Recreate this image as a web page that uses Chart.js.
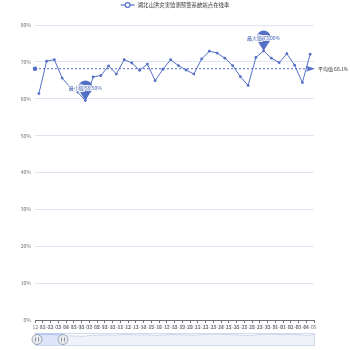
<!DOCTYPE html>
<html lang="zh">
<head>
    <meta charset="UTF-8">
    <title>湖北山洪灾害监测预警系统站点在线率</title>
    <style>
        body {
            margin: 0;
            padding: 0;
            background: #fff;
            font-family: "Noto Sans CJK SC", "DejaVu Sans", sans-serif;
        }

        .wrap {
            position: relative;
            width: 350px;
            height: 350px;
        }

        #chart {
            position: absolute;
            left: 0;
            top: 0;
        }

        #zoom {
            position: absolute;
            left: 30px;
            top: 330px;
        }
    </style>
</head>
<body>
    <div class="wrap">
        <canvas id="chart" width="350" height="350"></canvas>
        <canvas id="zoom" width="290" height="20"></canvas>
    </div>

    <script src="https://cdn.jsdelivr.net/npm/chart.js"></script>
    <script>
        const seriesName = '湖北山洪灾害监测预警系统站点在线率';

        const days = [
            '12-01', '12-02', '12-03', '12-04', '12-05', '12-06', '12-07', '12-08', '12-09', '12-10',
            '12-11', '12-12', '12-13', '12-14', '12-15', '12-16', '12-17', '12-18', '12-19', '12-20',
            '12-21', '12-22', '12-23', '12-24', '12-25', '12-26', '12-27', '12-28', '12-29', '12-30',
            '12-31', '01-01', '01-02', '01-03', '01-04', '01-05'
        ];

        const onlineRate = [
            61.4, 70.2, 70.6, 65.6, 63.2, 61.8, 59.5, 65.9, 66.3, 68.9,
            66.7, 70.6, 69.7, 67.7, 69.4, 64.9, 68.0, 70.6, 69.0, 67.8,
            66.7, 70.8, 72.9, 72.4, 71.0, 69.0, 66.0, 63.6, 71.2, 73.0,
            71.0, 69.8, 72.2, 69.1, 64.4, 72.1
        ];

        const yMin = 0;
        const yMax = 80;
        const yStep = 10;

        // slider window, percent of the data range
        const zoomStart = 0;
        const zoomEnd = 10;

        const blue = '#5470c6';
        const axisGray = '#6E7079';
        const fontFamily = '"Noto Sans CJK SC", "DejaVu Sans", sans-serif';

        const mean = onlineRate.reduce((a, b) => a + b, 0) / onlineRate.length;
        const maxVal = Math.max(...onlineRate);
        const minVal = Math.min(...onlineRate);

        function drawPin(ctx, x, y, text) {
            const r = 7.2;
            const cy = y - 13;
            ctx.save();
            ctx.beginPath();
            ctx.arc(x, cy, r, Math.PI * 0.5 + 0.75, Math.PI * 0.5 - 0.75, false);
            ctx.lineTo(x, y);
            ctx.closePath();
            ctx.fillStyle = blue;
            ctx.fill();

            ctx.font = '5px ' + fontFamily;
            ctx.textAlign = 'center';
            ctx.textBaseline = 'middle';
            ctx.lineWidth = 2;
            ctx.strokeStyle = 'rgba(255,255,255,0.9)';
            ctx.strokeText(text, x, cy);
            ctx.fillStyle = '#4a64b5';
            ctx.fillText(text, x, cy);
            ctx.restore();
        }

        const markPlugin = {
            id: 'marks',
            afterDatasetsDraw(chart) {
                const ctx = chart.ctx;
                const area = chart.chartArea;
                const xs = chart.scales.x;
                const ys = chart.scales.y;

                // average line
                const my = ys.getPixelForValue(mean);
                ctx.save();
                ctx.strokeStyle = blue;
                ctx.lineWidth = 1;
                ctx.setLineDash([2, 2]);
                ctx.beginPath();
                ctx.moveTo(area.left, my);
                ctx.lineTo(area.right - 6, my);
                ctx.stroke();
                ctx.setLineDash([]);

                ctx.fillStyle = blue;
                ctx.beginPath();
                ctx.arc(area.left, my, 2.3, 0, Math.PI * 2);
                ctx.fill();

                ctx.beginPath();
                ctx.moveTo(area.right + 1, my);
                ctx.lineTo(area.right - 8, my - 3);
                ctx.lineTo(area.right - 6, my);
                ctx.lineTo(area.right - 8, my + 3);
                ctx.closePath();
                ctx.fill();

                ctx.font = '5px ' + fontFamily;
                ctx.fillStyle = '#333';
                ctx.textAlign = 'left';
                ctx.textBaseline = 'middle';
                ctx.fillText('平均值 ' + mean.toFixed(1) + '%', area.right + 4, my);
                ctx.restore();

                // max / min pins
                const iMax = onlineRate.indexOf(maxVal);
                const iMin = onlineRate.indexOf(minVal);
                drawPin(ctx, xs.getPixelForValue(iMax), ys.getPixelForValue(maxVal), '最大值 ' + maxVal.toFixed(2) + '%');
                drawPin(ctx, xs.getPixelForValue(iMin), ys.getPixelForValue(minVal), '最小值 ' + minVal.toFixed(2) + '%');
            },
            afterDraw(chart) {
                // legend
                const ctx = chart.ctx;
                ctx.save();
                ctx.font = '5.4px ' + fontFamily;
                const tw = ctx.measureText(seriesName).width;
                const total = 14 + 3 + tw;
                const x0 = chart.width / 2 - total / 2;
                const y0 = 5;
                ctx.strokeStyle = blue;
                ctx.lineWidth = 1.2;
                ctx.beginPath();
                ctx.moveTo(x0, y0);
                ctx.lineTo(x0 + 14, y0);
                ctx.stroke();
                ctx.beginPath();
                ctx.arc(x0 + 7, y0, 2.4, 0, Math.PI * 2);
                ctx.fillStyle = '#fff';
                ctx.fill();
                ctx.stroke();
                ctx.fillStyle = '#333';
                ctx.textAlign = 'left';
                ctx.textBaseline = 'middle';
                ctx.fillText(seriesName, x0 + 17, y0);
                ctx.restore();
            }
        };

        new Chart(document.getElementById('chart'), {
            type: 'line',
            data: {
                labels: days,
                datasets: [{
                    label: seriesName,
                    data: onlineRate,
                    borderColor: blue,
                    backgroundColor: blue,
                    borderWidth: 1,
                    pointRadius: 1.4,
                    pointBackgroundColor: blue,
                    pointBorderWidth: 0,
                    tension: 0
                }]
            },
            options: {
                responsive: false,
                animation: false,
                layout: { padding: { top: 25, right: 36, bottom: 0, left: 0 } },
                plugins: {
                    legend: { display: false },
                    tooltip: { enabled: false }
                },
                scales: {
                    x: {
                        offset: true,
                        grid: { offset: true, drawOnChartArea: false, color: axisGray, tickLength: 3 },
                        border: { color: axisGray },
                        ticks: {
                            autoSkip: false,
                            maxRotation: 0,
                            minRotation: 0,
                            padding: 1,
                            color: axisGray,
                            font: { size: 5, family: fontFamily }
                        },
                        afterFit(axis) { axis.height = 30; }
                    },
                    y: {
                        min: yMin,
                        max: yMax,
                        ticks: {
                            stepSize: yStep,
                            padding: 4,
                            color: axisGray,
                            font: { size: 5, family: fontFamily },
                            callback: (v) => v + '%'
                        },
                        grid: { color: '#E0E6F1', drawTicks: false },
                        border: { display: false },
                        afterFit(axis) { axis.width = 35; }
                    }
                }
            },
            plugins: [markPlugin]
        });

        const sliderPlugin = {
            id: 'slider',
            beforeDatasetsDraw(chart) {
                const ctx = chart.ctx;
                const a = chart.chartArea;
                const w = a.right - a.left;
                const sx = a.left + w * zoomStart / 100;
                const ex = a.left + w * zoomEnd / 100;
                ctx.save();
                ctx.fillStyle = 'rgba(135,175,274,0.25)';
                ctx.fillRect(sx, a.top, ex - sx, a.bottom - a.top);
                ctx.restore();
            },
            afterDraw(chart) {
                const ctx = chart.ctx;
                const a = chart.chartArea;
                const w = a.right - a.left;
                const sx = a.left + w * zoomStart / 100;
                const ex = a.left + w * zoomEnd / 100;
                const cy = (a.top + a.bottom) / 2;
                ctx.save();
                ctx.strokeStyle = '#d2dbee';
                ctx.lineWidth = 1;
                ctx.strokeRect(a.left + 0.5, a.top + 0.5, w - 1, a.bottom - a.top - 1);
                ctx.fillStyle = 'rgba(135,175,274,0.35)';
                ctx.fillRect(sx, a.top, ex - sx, 2);
                [sx + 2, ex].forEach((hx) => {
                    ctx.beginPath();
                    ctx.arc(hx, cy, 5, 0, Math.PI * 2);
                    ctx.fillStyle = '#e9ebef';
                    ctx.fill();
                    ctx.strokeStyle = '#9aa2b1';
                    ctx.lineWidth = 1;
                    ctx.stroke();
                    ctx.strokeStyle = '#8a92a0';
                    ctx.beginPath();
                    ctx.moveTo(hx - 1.5, cy - 2);
                    ctx.lineTo(hx - 1.5, cy + 2);
                    ctx.moveTo(hx + 1.5, cy - 2);
                    ctx.lineTo(hx + 1.5, cy + 2);
                    ctx.stroke();
                });
                ctx.restore();
            }
        };

        new Chart(document.getElementById('zoom'), {
            type: 'line',
            data: {
                labels: days,
                datasets: [{
                    data: onlineRate,
                    borderColor: '#c4cde3',
                    borderWidth: 0.8,
                    pointRadius: 0,
                    fill: 'start',
                    backgroundColor: 'rgba(210,219,238,0.35)',
                    tension: 0
                }]
            },
            options: {
                responsive: false,
                animation: false,
                layout: { padding: { left: 5, right: 5, top: 3, bottom: 4 } },
                plugins: {
                    legend: { display: false },
                    tooltip: { enabled: false }
                },
                scales: {
                    x: { display: false },
                    y: { display: false, min: yMin, max: yMax }
                }
            },
            plugins: [sliderPlugin]
        });
    </script>
</body>
</html>
